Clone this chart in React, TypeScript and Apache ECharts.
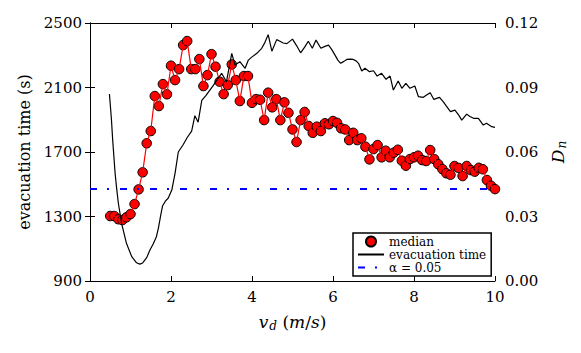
import React, { useEffect, useRef } from "react";
import * as echarts from "echarts";

const medianX: number[] = [
  0.5, 0.6, 0.7, 0.8, 0.9, 1.0, 1.1, 1.2, 1.3, 1.4, 1.5, 1.6, 1.7, 1.8, 1.9, 2.0,
  2.1, 2.2, 2.3, 2.4, 2.5, 2.6, 2.7, 2.8, 2.9, 3.0, 3.1, 3.2, 3.3, 3.4, 3.5, 3.6,
  3.7, 3.8, 3.9, 4.0, 4.1, 4.2, 4.3, 4.4, 4.5, 4.6, 4.7, 4.8, 4.9, 5.0, 5.1, 5.2,
  5.3, 5.4, 5.5, 5.6, 5.7, 5.8, 5.9, 6.0, 6.1, 6.2, 6.3, 6.4, 6.5, 6.6, 6.7, 6.8,
  6.9, 7.0, 7.1, 7.2, 7.3, 7.4, 7.5, 7.6, 7.7, 7.8, 7.9, 8.0, 8.1, 8.2, 8.3, 8.4,
  8.5, 8.6, 8.7, 8.8, 8.9, 9.0, 9.1, 9.2, 9.3, 9.4, 9.5, 9.6, 9.7, 9.8, 9.9, 10.0,
];
const medianY: number[] = [
  1303, 1303, 1283, 1278, 1295, 1315, 1377, 1468, 1574, 1754, 1830, 2047, 1985, 2121, 2058, 2235,
  2146, 2214, 2363, 2388, 2214, 2214, 2276, 2109, 2177, 2307, 2229, 2136, 2059, 2115, 2243, 2146,
  2016, 2171, 2171, 2005, 2028, 2024, 1898, 2068, 1977, 2028, 1898, 2008, 1943, 1840, 1762, 1898,
  1948, 1861, 1819, 1857, 1830, 1878, 1872, 1892, 1881, 1847, 1840, 1774, 1819, 1774, 1785, 1733,
  1654, 1718, 1743, 1667, 1708, 1667, 1696, 1714, 1646, 1615, 1656, 1667, 1677, 1650, 1644, 1712,
  1656, 1624, 1594, 1568, 1559, 1613, 1601, 1551, 1613, 1588, 1578, 1602, 1593, 1526, 1491, 1470,
];

const evacX: number[] = [
  0.48, 0.53, 0.56, 0.62, 0.66, 0.7, 0.78, 0.9, 1.03, 1.15, 1.23, 1.3, 1.4, 1.48, 1.56, 1.64,
  1.69, 1.74, 1.79, 1.86, 1.93, 2.02, 2.1, 2.18, 2.3, 2.4, 2.51, 2.59, 2.67, 2.76, 2.86, 2.96,
  3.05, 3.13, 3.25, 3.37, 3.5, 3.58, 3.7, 3.83, 3.91, 4.0, 4.12, 4.24, 4.32, 4.4, 4.49, 4.61,
  4.69, 4.77, 4.86, 5.0, 5.1, 5.2, 5.3, 5.39, 5.49, 5.58, 5.7, 5.8, 5.89, 5.97, 6.05, 6.12,
  6.19, 6.27, 6.34, 6.42, 6.5, 6.57, 6.63, 6.71, 6.79, 6.9, 7.0, 7.09, 7.2, 7.31, 7.41, 7.49,
  7.61, 7.7, 7.8, 7.9, 8.02, 8.11, 8.23, 8.32, 8.4, 8.49, 8.63, 8.72, 8.8, 8.9, 9.01, 9.1,
  9.18, 9.3, 9.38, 9.47, 9.59, 9.71, 9.79, 9.92, 10.0,
];
const evacY: number[] = [
  2060, 1900, 1774, 1568, 1470, 1382, 1258, 1134, 1051, 1013, 1005, 1012, 1045, 1092, 1130, 1175,
  1230, 1299, 1365, 1395, 1413, 1464, 1568, 1700, 1745, 1790, 1830, 1925, 1885, 2020, 2050, 2084,
  2115, 2146, 2188, 2136, 2312, 2239, 2260, 2219, 2270, 2290, 2312, 2343, 2380, 2428, 2325, 2397,
  2387, 2376, 2372, 2400, 2360, 2315, 2350, 2387, 2343, 2394, 2343, 2355, 2363, 2335, 2301, 2270,
  2250, 2262, 2274, 2276, 2274, 2265, 2250, 2202, 2219, 2198, 2204, 2171, 2188, 2151, 2171, 2084,
  2140, 2095, 2126, 2095, 2109, 2043, 2039, 2055, 2068, 2026, 2039, 2012, 1985, 1950, 1960, 1930,
  1898, 1935, 1920, 1909, 1909, 1867, 1878, 1857, 1853,
];

const alphaLevel = 1471;
const xRange = [0, 10];
const leftTicks = { min: 900, max: 2500, interval: 400 };
const rightTicks = { min: 0, max: 0.12, interval: 0.03 };
const legendNames = ["median", "evacuation time", "α = 0.05"];

const FONT = "DejaVu Serif, serif";

export default function App() {
  const ref = useRef<HTMLDivElement>(null);
  useEffect(() => {
    if (!ref.current) return;
    const chart = echarts.init(ref.current, null, { renderer: "svg" });
    const medianData = medianX.map((x, i) => [x, medianY[i]]);
    const evacData = evacX.map((x, i) => [x, evacY[i]]);
    const axisLine = { show: true, lineStyle: { color: "#000", width: 1 } };
    const tick = { show: true, inside: true, length: 5, lineStyle: { color: "#000", width: 1 } };
    const label = { color: "#000", fontFamily: FONT, fontSize: 15 };
    const rich = {
      it: { fontFamily: FONT, fontStyle: "italic", fontSize: 17, color: "#000" },
      up: { fontFamily: FONT, fontSize: 17, color: "#000" },
      sub: { fontFamily: FONT, fontStyle: "italic", fontSize: 12, color: "#000", padding: [9, 0, 0, 1] },
    };
    chart.setOption({
      animation: false,
      backgroundColor: "#fff",
      textStyle: { fontFamily: FONT },
      grid: { left: 90, right: 86, top: 23, bottom: 72, containLabel: false },
      xAxis: [
        {
          type: "value",
          min: xRange[0],
          max: xRange[1],
          interval: 2,
          axisLine,
          axisTick: tick,
          splitLine: { show: false },
          axisLabel: { ...label, margin: 8, formatter: (v: number) => String(v) },
          name: "{it|v}{sub|d}{up| (}{it|m}{up|/}{it|s}{up|)}",
          nameLocation: "middle",
          nameGap: 30,
          nameTextStyle: { rich },
        },
        {
          type: "value",
          position: "top",
          min: xRange[0],
          max: xRange[1],
          interval: 2,
          axisLine,
          axisTick: tick,
          splitLine: { show: false },
          axisLabel: { show: false },
        },
      ],
      yAxis: [
        {
          type: "value",
          ...leftTicks,
          axisLine,
          axisTick: tick,
          splitLine: { show: false },
          axisLabel: { ...label, margin: 8, formatter: (v: number) => String(v) },
          name: "evacuation time (s)",
          nameLocation: "middle",
          nameRotate: 90,
          nameGap: 56,
          nameTextStyle: { fontFamily: FONT, fontSize: 16, color: "#000" },
        },
        {
          type: "value",
          position: "right",
          ...rightTicks,
          axisLine,
          axisTick: tick,
          splitLine: { show: false },
          axisLabel: { ...label, margin: 10, formatter: (v: number) => v.toFixed(2) },
          name: "{it|D}{sub|n}",
          nameLocation: "middle",
          nameRotate: 90,
          nameGap: 52,
          nameTextStyle: { rich },
        },
      ],
      legend: {
        data: [
          { name: legendNames[0] },
          { name: legendNames[1], itemStyle: { opacity: 0 } },
          { name: legendNames[2], itemStyle: { opacity: 0 } },
        ],
        orient: "vertical",
        left: 353,
        top: 233,
        align: "left",
        itemWidth: 26,
        itemHeight: 10,
        itemGap: 0,
        padding: [2, 5, 2, 4],
        borderColor: "#000",
        borderWidth: 1.5,
        backgroundColor: "#fff",
        textStyle: { fontFamily: FONT, fontSize: 12, color: "#000", lineHeight: 13 },
      },
      series: [
        {
          name: "median-line",
          type: "line",
          data: medianData,
          showSymbol: false,
          symbol: "none",
          lineStyle: { color: "#ff0000", width: 1.2 },
          silent: true,
        },
        {
          name: legendNames[0],
          type: "scatter",
          data: medianData,
          symbol: "circle",
          symbolSize: 9.5,
          itemStyle: { color: "#ff0000", borderColor: "#000", borderWidth: 1, opacity: 1 },
        },
        {
          name: legendNames[1],
          type: "line",
          data: evacData,
          symbol: "none",
          lineStyle: { color: "#000", width: 1.2 },
          itemStyle: { color: "#000" },
        },
        {
          name: legendNames[2],
          type: "line",
          data: [
            [xRange[0], alphaLevel],
            [xRange[1], alphaLevel],
          ],
          symbol: "none",
          lineStyle: { color: "#0000ff", width: 2, type: [7, 10, 2, 11] },
          itemStyle: { color: "#0000ff" },
        },
      ],
    });
    return () => chart.dispose();
  }, []);
  return (
    <div
      ref={ref}
      style={{ position: "fixed", left: 0, top: 0, width: 581, height: 353 }}
    />
  );
}
